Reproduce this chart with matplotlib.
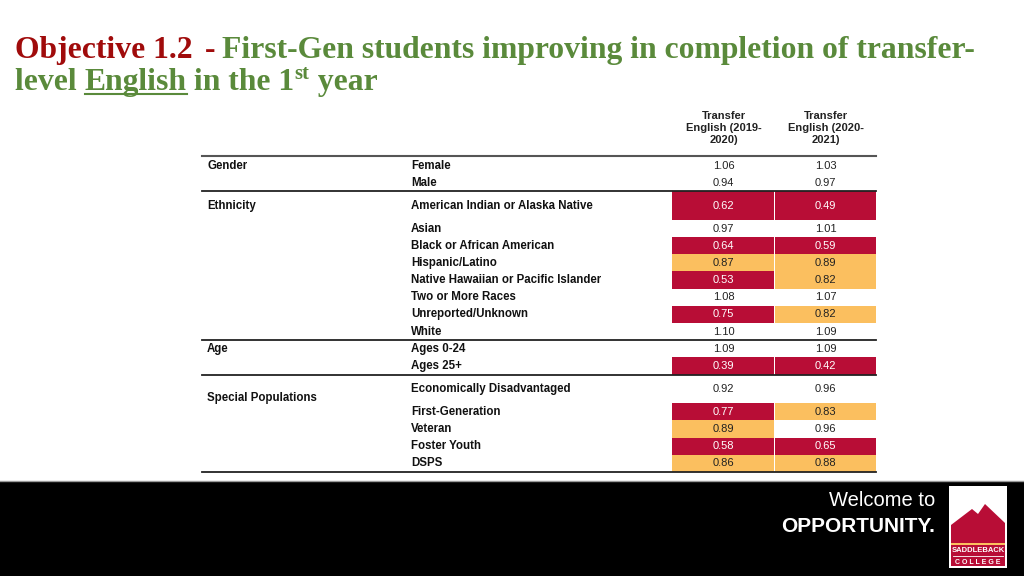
import matplotlib
matplotlib.use('Agg')
import matplotlib.pyplot as plt
from matplotlib.patches import Rectangle, Polygon

# data
groups = ['Gender', 'Ethnicity', 'Age', 'Special Populations']
group_sizes = [2, 8, 2, 5]
subgroups = ['Female', 'Male',
             'American Indian or Alaska Native', 'Asian', 'Black or African American',
             'Hispanic/Latino', 'Native Hawaiian or Pacific Islander', 'Two or More Races',
             'Unreported/Unknown', 'White',
             'Ages 0-24', 'Ages 25+',
             'Economically Disadvantaged', 'First-Generation', 'Veteran', 'Foster Youth', 'DSPS']
eng_2019 = [1.06, 0.94, 0.62, 0.97, 0.64, 0.87, 0.53, 1.08, 0.75, 1.10, 1.09, 0.39,
            0.92, 0.77, 0.89, 0.58, 0.86]
eng_2020 = [1.03, 0.97, 0.49, 1.01, 0.59, 0.89, 0.82, 1.07, 0.82, 1.09, 1.09, 0.42,
            0.96, 0.83, 0.96, 0.65, 0.88]
headers = ['Transfer\nEnglish (2019-\n2020)', 'Transfer\nEnglish (2020-\n2021)']

# style
RED = '#B80D36'
ORANGE = '#FBBF5F'
TITLE_RED = '#A00B0B'
TITLE_GREEN = '#5A8A3B'
SANS = ['Liberation Sans Narrow', 'Liberation Sans', 'DejaVu Sans']
SERIF = ['Liberation Serif', 'DejaVu Serif']
tall_rows = {'American Indian or Alaska Native', 'Economically Disadvantaged'}
group_label_span = [1, 1, 1, 2]


def cell_color(v):
    if v < 0.8:
        return RED
    if v < 0.9:
        return ORANGE
    return None


fig = plt.figure(figsize=(10.24, 5.76), dpi=100)
ax = fig.add_axes([0, 0, 1, 1])
ax.set_xlim(0, 1024)
ax.set_ylim(576, 0)
ax.axis('off')

# title
renderer = fig.canvas.get_renderer()


def run(x, y, s, color, size, **kw):
    t = ax.text(x, y, s, color=color, fontsize=size, fontweight='bold', family=SERIF,
                va='baseline', ha='left', **kw)
    bb = t.get_window_extent(renderer)
    return x + bb.width, t


tsize = 22.8
run(15, 58, 'Objective 1.2', TITLE_RED, tsize)
run(205, 58, '-', TITLE_RED, tsize)
run(222, 58, 'First-Gen students improving in completion of transfer-', TITLE_GREEN, tsize)
x, _ = run(15, 90, 'level ', TITLE_GREEN, tsize)
x0 = x
x, _ = run(x, 90, 'English', TITLE_GREEN, tsize)
ax.plot([x0, x], [93.5, 93.5], color=TITLE_GREEN, lw=1.5)
x, _ = run(x, 90, ' in the 1', TITLE_GREEN, tsize)
x, _ = run(x, 79, 'st', TITLE_GREEN, tsize * 0.65)
run(x, 90, ' year', TITLE_GREEN, tsize)

# table geometry
left, right = 202, 876
col_x = [672, 775, 876]
top = 157
row_h = 17.2
tall_h = 28.5

ys = []
y = top
for name in subgroups:
    h = tall_h if name in tall_rows else row_h
    ys.append((y, h))
    y += h

# header
for j, h in enumerate(headers):
    ax.text((col_x[j] + col_x[j + 1]) / 2, 128, h, ha='center', va='center',
            fontsize=8, family=SANS, fontweight='bold', color='#222222', linespacing=1.25)

ax.plot([left, right], [top - 1, top - 1], color='#555555', lw=1.5)

for i, name in enumerate(subgroups):
    y0, h = ys[i]
    yc = y0 + h / 2
    ax.text(411, yc, name, ha='left', va='center', fontsize=8.3, family=SANS,
            fontweight='bold', color='#111111')
    for j, v in enumerate([eng_2019[i], eng_2020[i]]):
        c = cell_color(v)
        if c:
            ax.add_patch(Rectangle((col_x[j], y0), col_x[j + 1] - col_x[j] - (1 if j == 0 else 0), h,
                                   facecolor=c, edgecolor='none'))
        ax.text((col_x[j] + col_x[j + 1]) / 2, yc, '%.2f' % v, ha='center', va='center',
                fontsize=8, family=SANS, color='white' if c == RED else '#222222')

# group labels and separators
start = 0
for g, n, span in zip(groups, group_sizes, group_label_span):
    y0 = ys[start][0]
    y1 = ys[start + span - 1][0] + ys[start + span - 1][1]
    ax.text(207, (y0 + y1) / 2, g, ha='left', va='center', fontsize=8.3, family=SANS,
            fontweight='bold', color='#111111')
    end = ys[start + n - 1][0] + ys[start + n - 1][1]
    ax.plot([left, right], [end, end], color='#222222', lw=1.3)
    start += n

# footer band
ax.add_patch(Rectangle((0, 481), 1024, 95, facecolor='black', edgecolor='none'))
ax.plot([0, 1024], [480.5, 480.5], color='#999999', lw=1)
ax.text(935, 500, 'Welcome to', ha='right', va='center', color='white', fontsize=14.5,
        family=SANS)
ax.text(935, 527, 'OPPORTUNITY.', ha='right', va='center', color='white', fontsize=15,
        family=SANS, fontweight='bold')

# logo
ax.add_patch(Rectangle((949, 486), 58, 82, facecolor='white', edgecolor='none'))
ax.add_patch(Polygon([(951, 525), (972, 509), (978, 514), (985, 504), (1005, 523),
                      (1005, 543), (951, 543)], closed=True, facecolor=RED, edgecolor='none'))
ax.add_patch(Rectangle((951, 543), 54, 2, facecolor=ORANGE, edgecolor='none'))
ax.add_patch(Rectangle((951, 545), 54, 21, facecolor=RED, edgecolor='none'))
ax.text(978, 551, 'SADDLEBACK', ha='center', va='center', color='white', fontsize=5.5,
        family=SANS, fontweight='bold')
ax.plot([953, 1003], [556, 556], color='white', lw=0.6)
ax.text(978, 562, 'C O L L E G E', ha='center', va='center', color='white', fontsize=5,
        family=SANS, fontweight='bold')

fig.savefig('out.png', dpi=100)
